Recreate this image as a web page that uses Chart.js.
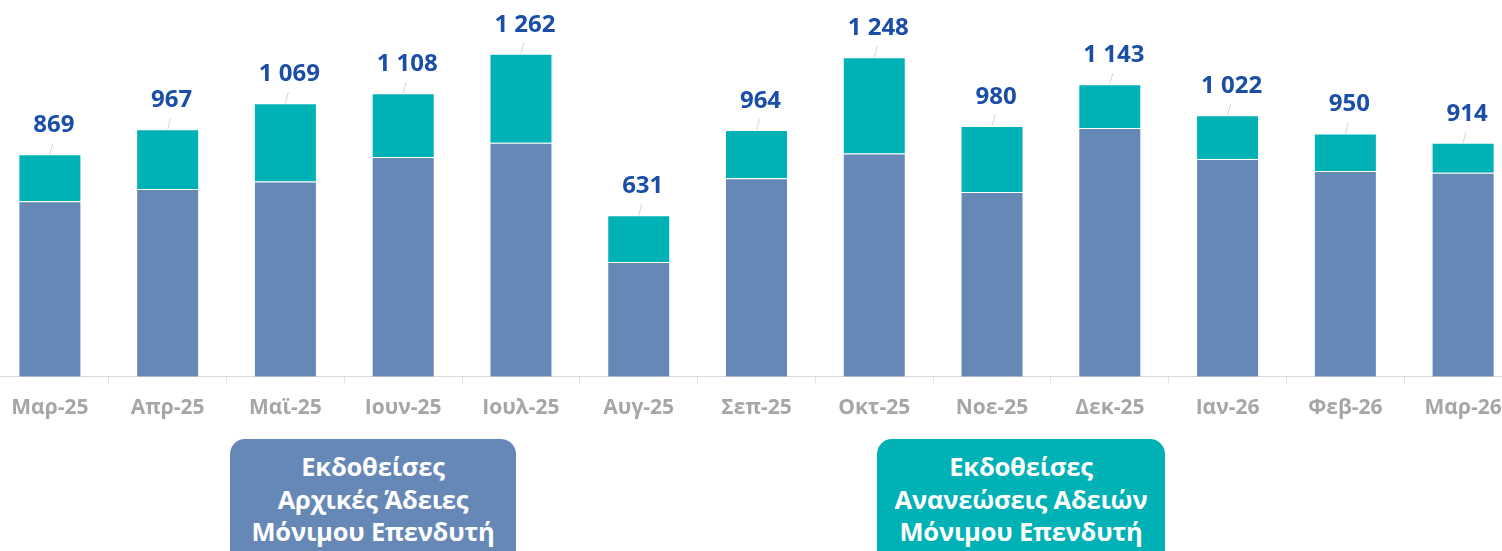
<!DOCTYPE html>
<html>
<head>
<meta charset="utf-8">
<script src="https://cdn.jsdelivr.net/npm/chart.js@4"></script>
<style>
  html, body { margin: 0; padding: 0; background: #fff; overflow: hidden; }
  body { width: 1502px; height: 551px; position: relative; }
  #wrap { position: absolute; left: -9.4px; top: 0; width: 1531px; height: 433px; }
  .tag {
    position: absolute; top: 439px; height: 130px; box-sizing: border-box;
    padding-top: 11px; border-radius: 15px; color: #fff; text-align: center;
    font: bold 25.5px "Open Sans", sans-serif; line-height: 32.5px; letter-spacing: -0.2px;
  }
</style>
</head>
<body>
<div id="wrap"><canvas id="permits"></canvas></div>
<div id="tags"></div>
<script>
const months = ["Μαρ-25", "Απρ-25", "Μαϊ-25", "Ιουν-25", "Ιουλ-25", "Αυγ-25", "Σεπ-25",
                "Οκτ-25", "Νοε-25", "Δεκ-25", "Ιαν-26", "Φεβ-26", "Μαρ-26"];
const initialPermits = [686, 734, 763, 859, 914, 448, 776, 872, 722, 972, 851, 804, 797];
const renewedPermits = [183, 233, 306, 249, 348, 183, 188, 376, 258, 171, 171, 146, 117];

const initialLabel = "Εκδοθείσες\nΑρχικές Άδειες\nΜόνιμου Επενδυτή";
const renewedLabel = "Εκδοθείσες\nΑνανεώσεις Αδειών\nΜόνιμου Επενδυτή";

const BLUE = "#6688b7";
const TEAL = "#00b1b5";

const totals = months.map((m, i) => initialPermits[i] + renewedPermits[i]);

function fmt(n) {
  return String(n).replace(/\B(?=(\d{3})+(?!\d))/g, " ");
}

// total above each stacked column, with a short leader line
const totalLabels = {
  id: "totalLabels",
  afterDatasetsDraw(chart) {
    const ctx = chart.ctx;
    const x = chart.scales.x, y = chart.scales.y;
    ctx.save();
    totals.forEach((t, i) => {
      const px = x.getPixelForValue(i);
      const top = y.getPixelForValue(t);
      ctx.strokeStyle = "#d4d4d4";
      ctx.lineWidth = 1;
      ctx.beginPath();
      ctx.moveTo(px, top);
      ctx.lineTo(px + 3, top - 11);
      ctx.stroke();
      ctx.fillStyle = "#1b4ea6";
      ctx.font = "bold 24px 'Open Sans', sans-serif";
      ctx.textAlign = "center";
      ctx.textBaseline = "middle";
      ctx.fillText(fmt(t), px + 4, top - 29);
    });
    ctx.restore();
  }
};

const chart = new Chart(document.getElementById("permits"), {
  type: "bar",
  data: {
    labels: months,
    datasets: [
      { label: initialLabel, data: initialPermits, backgroundColor: BLUE,
        borderColor: "rgba(255,255,255,0.22)", borderWidth: 1 },
      { label: renewedLabel, data: renewedPermits, backgroundColor: TEAL,
        borderColor: "rgba(255,255,255,0.22)", borderWidth: 1 }
    ]
  },
  options: {
    responsive: true,
    maintainAspectRatio: false,
    animation: false,
    barPercentage: 0.535,
    categoryPercentage: 1,
    layout: { padding: { top: 0, bottom: 0, left: 0, right: 0 } },
    plugins: { legend: { display: false }, tooltip: { enabled: false } },
    scales: {
      x: {
        stacked: true,
        border: { color: "#d9d9d9", width: 1 },
        grid: { offset: true, drawOnChartArea: false, drawTicks: true, tickLength: 7, color: "#e3e3e3" },
        ticks: { color: "#a6a6a6", padding: 12, font: { family: "'Open Sans', sans-serif", size: 21, weight: "bold" } }
      },
      y: { stacked: true, display: false, min: 0, max: 1472 }
    }
  },
  plugins: [totalLabels]
});

// dataset boxes below the axis
const tagBoxes = [{ left: 230, width: 286 }, { left: 877, width: 288 }];
chart.data.datasets.forEach((ds, i) => {
  const d = document.createElement("div");
  d.className = "tag";
  d.style.left = tagBoxes[i].left + "px";
  d.style.width = tagBoxes[i].width + "px";
  d.style.background = ds.backgroundColor;
  d.innerHTML = ds.label.split("\n").join("<br>");
  document.getElementById("tags").appendChild(d);
});
</script>
</body>
</html>
